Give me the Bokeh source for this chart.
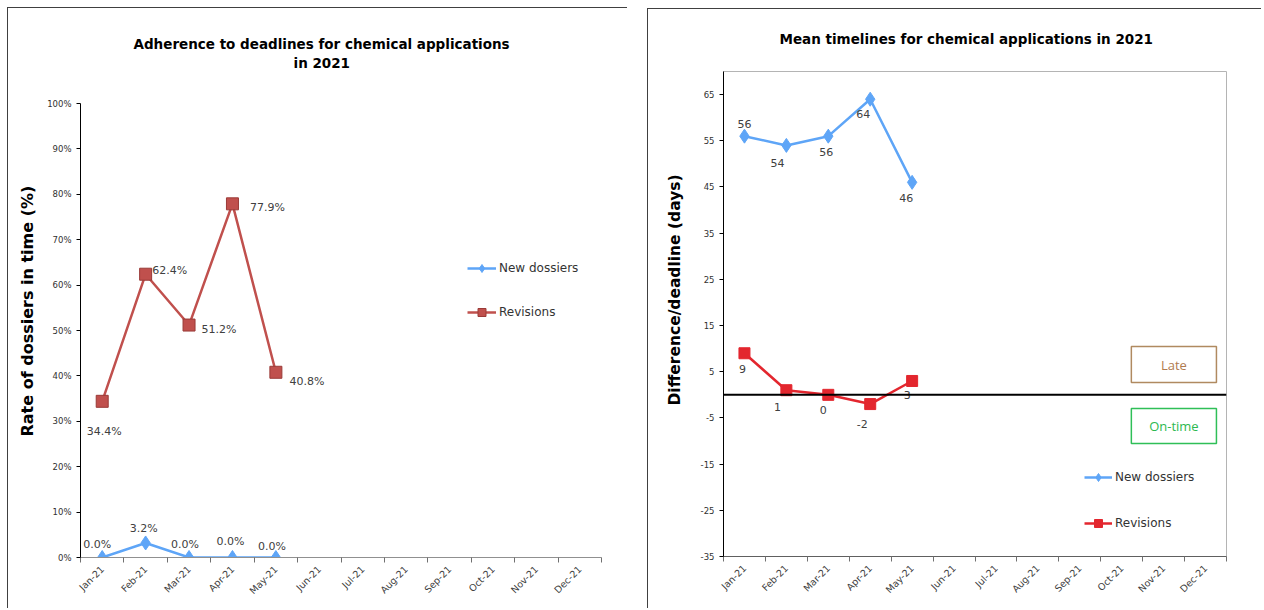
import math
from bokeh.plotting import figure
from bokeh.models import (ColumnDataSource, FixedTicker, Range1d, Span, BoxAnnotation, Title,
                          Label, Legend, LegendItem, PrintfTickFormatter, CustomJSTickFormatter)
from bokeh.layouts import row
from bokeh.embed import file_html
from bokeh.resources import INLINE
from bokeh.core.properties import value

# ---------------- data ----------------
months = ["Jan-21", "Feb-21", "Mar-21", "Apr-21", "May-21", "Jun-21",
          "Jul-21", "Aug-21", "Sep-21", "Oct-21", "Nov-21", "Dec-21"]
data_months = ["Jan-21", "Feb-21", "Mar-21", "Apr-21", "May-21"]

adh_new = [0.0, 3.2, 0.0, 0.0, 0.0]          # % new dossiers in time
adh_rev = [34.4, 62.4, 51.2, 77.9, 40.8]     # % revisions in time
mean_new = [56, 54, 56, 64, 46]              # days vs deadline, new dossiers
mean_rev = [9, 1, 0, -2, 3]                  # days vs deadline, revisions

pct_ticks = [0, 10, 20, 30, 40, 50, 60, 70, 80, 90, 100]
day_ticks = [-35, -25, -15, -5, 5, 15, 25, 35, 45, 55, 65]

# label placement (screen pixel offsets, style only)
off_adh_new = ([-5, -2, -4, -2, -4], [-13, -14, -13, -16, -11])
off_adh_rev = ([2, 24, 30, 35, 31], [30, -4, 4, 4, 9])
off_mean_new = ([0, -9, -2, -7, -6], [-12, 18, 16, 15, 16])
off_mean_rev = ([-2, -9, -5, -8, -5], [16, 17, 15, 20, 14])

BLUE = "#5ea5f7"
RED_L = "#c0504d"
RED_L_EDGE = "#9a3a37"
RED_R = "#e3262e"
LBL = "#404040"
FONT = "DejaVu Sans"

xs = [months.index(m) + 0.5 for m in data_months]
month_fmt = CustomJSTickFormatter(args=dict(labels=months),
                                  code="return labels[Math.floor(tick)] || '';")


def base_fig(width, height, y0, y1, mbl, mbr, mbt, mbb, ticks, margin):
    p = figure(width=width, height=height, x_range=Range1d(0, 12), y_range=Range1d(y0, y1),
               output_backend="svg", toolbar_location=None,
               min_border_left=mbl, min_border_right=mbr,
               min_border_top=mbt, min_border_bottom=mbb)
    p.frame_align = False
    p.margin = margin
    p.styles = {"border-top": "1px solid #404040", "border-left": "1px solid #404040"}
    p.background_fill_color = "white"
    p.border_fill_color = "white"
    p.xgrid.visible = False
    p.ygrid.visible = False
    # x axis
    p.xaxis.ticker = FixedTicker(ticks=[i + 0.5 for i in range(len(months))],
                                 minor_ticks=list(range(len(months) + 1)))
    p.xaxis.formatter = month_fmt
    p.xaxis.major_tick_line_color = None
    p.xaxis.minor_tick_line_color = "#707070"
    p.xaxis.minor_tick_out = 5
    p.xaxis.minor_tick_in = 0
    p.xaxis.major_label_orientation = math.pi / 4
    p.xaxis.major_label_text_font = FONT
    p.xaxis.major_label_text_font_size = "9.5px"
    p.xaxis.major_label_text_color = LBL
    p.xaxis.major_label_standoff = 4
    # y axis
    p.yaxis.ticker = FixedTicker(ticks=ticks, minor_ticks=[])
    p.yaxis.axis_line_color = "black"
    p.yaxis.major_tick_line_color = "black"
    p.yaxis.major_tick_out = 4
    p.yaxis.major_tick_in = 0
    p.yaxis.minor_tick_line_color = None
    p.yaxis.major_label_text_font = FONT
    p.yaxis.major_label_text_font_size = "8.5px"
    p.yaxis.major_label_text_color = "#303030"
    p.yaxis.major_label_standoff = 5
    return p


def add_text(p, ys, texts, offs):
    src = ColumnDataSource(dict(x=xs, y=ys, t=texts, dx=offs[0], dy=offs[1]))
    p.text(x="x", y="y", text="t", x_offset="dx", y_offset="dy", source=src,
           text_font=value(FONT), text_font_size="11px", text_color=LBL,
           text_align="center", text_baseline="middle")


def add_title(p, text, side, size, offset, standoff):
    p.add_layout(Title(text=text, align="left", offset=offset, standoff=standoff,
                       text_font=FONT, text_font_size=size, text_font_style="bold",
                       text_color="black"), side)


# ---------------- left chart ----------------
p1 = base_fig(620, 601, 0, 100, 72, 27, 95, 52, pct_ticks, (7, 0, 0, 7))
p1.outline_line_color = None
p1.xaxis.axis_line_color = "#909090"
p1.yaxis.formatter = PrintfTickFormatter(format="%d%%")

l1n = p1.line(xs, adh_new, line_color=BLUE, line_width=2.5)
s1n = p1.scatter(xs, adh_new, marker="diamond", size=14, fill_color=BLUE, line_color=BLUE)
l1r = p1.line(xs, adh_rev, line_color=RED_L, line_width=2.5)
s1r = p1.scatter(xs, adh_rev, marker="square", size=12, fill_color=RED_L, line_color=RED_L_EDGE)

add_text(p1, adh_new, ["%.1f%%" % v for v in adh_new], off_adh_new)
add_text(p1, adh_rev, ["%.1f%%" % v for v in adh_rev], off_adh_rev)

leg1 = Legend(items=[LegendItem(label="New dossiers", renderers=[l1n, s1n]),
                     LegendItem(label="Revisions", renderers=[l1r, s1r])],
              location=(387, 235), orientation="vertical", padding=0, margin=0,
              spacing=24, glyph_width=29, glyph_height=20, label_height=20,
              label_standoff=3, label_text_font=FONT, label_text_font_size="12px",
              label_text_color="#333333", border_line_alpha=0, background_fill_alpha=0)
p1.add_layout(leg1, "center")

# spacer between frame and the two title lines
p1.add_layout(Title(text=" ", text_font_size="1px", standoff=30), "above")
add_title(p1, "in 2021", "above", "13.5px", 213, 0)
add_title(p1, "Adherence to deadlines for chemical applications", "above", "13.5px", 53, 2)
add_title(p1, "Rate of dossiers in time (%)", "left", "16px", 121, 15)

# ---------------- right chart ----------------
p2 = base_fig(614, 600, -35, 70, 75, 36, 62, 53, day_ticks, (8, 0, 0, 0))
p2.outline_line_color = "#b4b4b4"
p2.xaxis.axis_line_color = "#606060"
p2.yaxis.formatter = PrintfTickFormatter(format="%d")

p2.add_layout(Span(location=0, dimension="width", line_color="black", line_width=2))
p2.add_layout(BoxAnnotation(left=9.73, right=11.76, bottom=2.67, top=10.46,
                            fill_alpha=0, line_color="#b08a60", line_alpha=1, line_width=1.5))
p2.add_layout(BoxAnnotation(left=9.73, right=11.76, bottom=-10.54, top=-2.96,
                            fill_alpha=0, line_color="#2fbf57", line_alpha=1, line_width=1.5))
p2.add_layout(Label(x=10.745, y=6.56, text="Late", text_font="Open Sans", text_font_size="13px",
                    text_color="#b07b4f", text_align="center", text_baseline="middle"))
p2.add_layout(Label(x=10.745, y=-6.75, text="On-time", text_font="Open Sans", text_font_size="13px",
                    text_color="#2db84f", text_align="center", text_baseline="middle"))

l2n = p2.line(xs, mean_new, line_color=BLUE, line_width=2.5)
s2n = p2.scatter(xs, mean_new, marker="diamond", size=14, fill_color=BLUE, line_color=BLUE)
l2r = p2.line(xs, mean_rev, line_color=RED_R, line_width=2.5)
s2r = p2.scatter(xs, mean_rev, marker="square", size=11, fill_color=RED_R, line_color=RED_R)

add_text(p2, mean_new, [str(v) for v in mean_new], off_mean_new)
add_text(p2, mean_rev, [str(v) for v in mean_rev], off_mean_rev)

leg2 = Legend(items=[LegendItem(label="New dossiers", renderers=[l2n, s2n]),
                     LegendItem(label="Revisions", renderers=[l2r, s2r])],
              location=(361, 23), orientation="vertical", padding=0, margin=0,
              spacing=26, glyph_width=28, glyph_height=20, label_height=20,
              label_standoff=3, label_text_font=FONT, label_text_font_size="12px",
              label_text_color="#333333", border_line_alpha=0, background_fill_alpha=0)
p2.add_layout(leg2, "center")

p2.add_layout(Title(text=" ", text_font_size="1px", standoff=21), "above")
add_title(p2, "Mean timelines for chemical applications in 2021", "above", "13.5px", 56, 2)
add_title(p2, "Difference/deadline (days)", "left", "15.5px", 151, 28)

layout = row(p1, p2, spacing=20)
open("out.html", "w").write(file_html(layout, INLINE))
